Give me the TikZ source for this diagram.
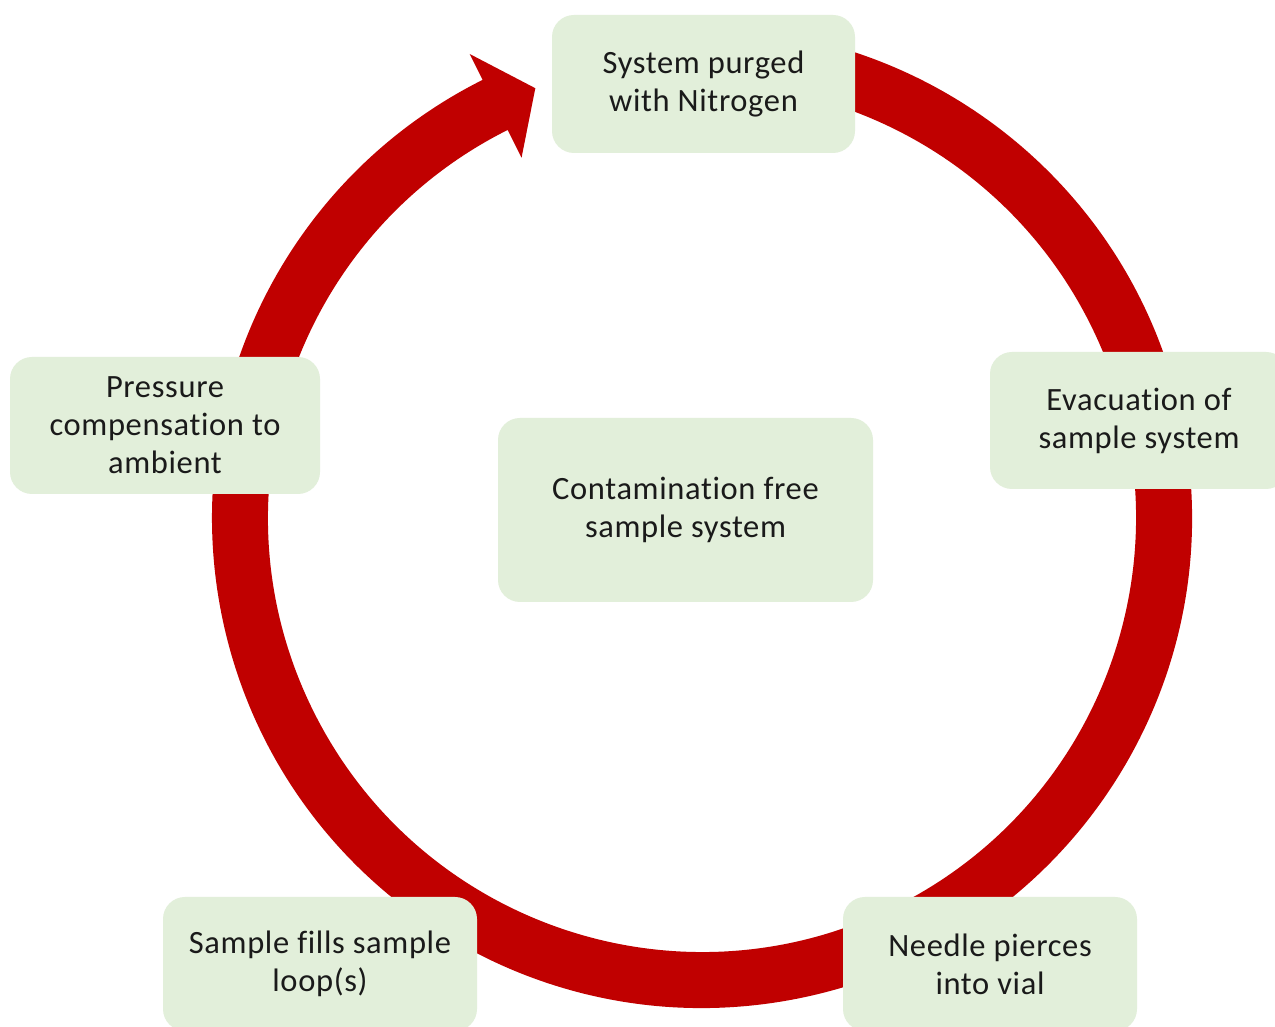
\documentclass[tikz,border=0pt]{standalone}
\usepackage{fontspec}
\setmainfont{Carlito}[Ligatures=NoCommon, LetterSpace=2]
\usetikzlibrary{calc}
\definecolor{ringred}{RGB}{192,0,0}
\definecolor{boxgreen}{RGB}{226,239,218}
\definecolor{txt}{RGB}{26,26,26}
\tikzset{
  stepbox/.style={fill=boxgreen, rounded corners=22pt, align=center, text=txt,
    font=\fontsize{32.5}{38}\selectfont, inner sep=0pt}
}
\begin{document}
\begin{tikzpicture}[x=1pt,y=1pt]
\useasboundingbox[fill=white] (0,0) rectangle (1275,1027);
\coordinate (C) at (702,509);
% ring with arrow head
\fill[ringred]
  ($(C)+(100:490)$) arc[start angle=100, end angle=-243.4, radius=490]
  -- ($(C)+(116.6:519)$) -- ($(C)+(111.2:461)$) -- ($(C)+(116.6:403)$)
  -- ($(C)+(116.6:434)$) arc[start angle=-243.4, end angle=100, radius=434]
  -- cycle;
% boxes
\node[stepbox, minimum width=303pt, minimum height=138pt] (purge) at (703.5,943) {System purged\\with Nitrogen};
\node[stepbox, minimum width=298pt, minimum height=137pt] (evac) at (1139,606.5) {Evacuation of\\sample system};
\node[stepbox, minimum width=294pt, minimum height=134pt] (needle) at (990,63) {Needle pierces\\into vial};
\node[stepbox, minimum width=314pt, minimum height=134pt] (fill) at (320,63) {Sample fills sample\\loop(s)};
\node[stepbox, minimum width=310pt, minimum height=137pt] (press) at (165,601.5) {Pressure\\compensation to\\ambient};
\node[stepbox, minimum width=375pt, minimum height=184pt] (center) at (685.5,517) {Contamination free\\sample system};
\end{tikzpicture}
\end{document}
